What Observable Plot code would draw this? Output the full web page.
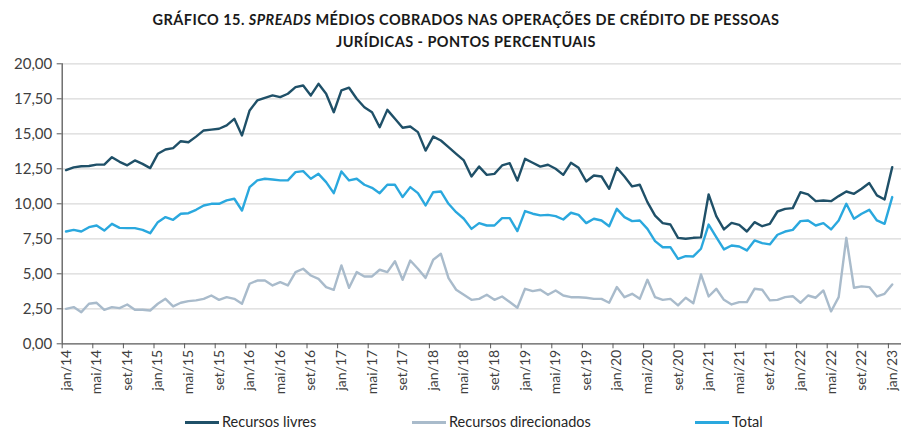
<!DOCTYPE html>
<html><head><meta charset="utf-8">
<script src="https://cdn.jsdelivr.net/npm/d3@7"></script>
<script src="https://cdn.jsdelivr.net/npm/@observablehq/plot@0.6"></script>
<style>
body{margin:0;background:#fff;font-family:Lato,"Open Sans",sans-serif;}
#wrap{width:901px;height:431px;position:relative;overflow:hidden;background:#fff;}
#title{height:50px;box-sizing:border-box;padding-top:9px;padding-left:31px;text-align:center;font-weight:bold;font-size:14.5px;letter-spacing:0.45px;line-height:22px;color:#1a1a1a;}
#chart{height:350px;}
#legend{position:absolute;top:412px;left:0;width:901px;height:20px;font-size:14.5px;color:#262626;}
.item{position:absolute;top:0;height:20px;line-height:20px;white-space:nowrap;}
.sw{display:inline-block;width:34px;height:3px;vertical-align:middle;margin-right:3px;position:relative;top:-1px;}
</style></head>
<body>
<div id="wrap">
<div id="title">GRÁFICO 15. <i>SPREADS</i> MÉDIOS COBRADOS NAS OPERAÇÕES DE CRÉDITO DE PESSOAS<br>JURÍDICAS - PONTOS PERCENTUAIS</div>
<div id="chart"></div>
<div id="legend"></div>
</div>
<script>
const monthNames = ["jan","fev","mar","abr","mai","jun","jul","ago","set","out","nov","dez"];
const years = ["14","15","16","17","18","19","20","21","22","23"];
const seriesNames = ["Recursos livres","Recursos direcionados","Total"];
const seriesColors = ["#1F5068","#A9BBCB","#2AA8DE"];
const yTicks = [0,2.5,5,7.5,10,12.5,15,17.5,20];

const livres = [12.40,12.60,12.68,12.70,12.80,12.80,13.33,13.00,12.75,13.10,12.85,12.55,
13.57,13.88,13.98,14.47,14.40,14.80,15.24,15.30,15.36,15.60,16.07,14.88,
16.67,17.38,17.57,17.74,17.62,17.86,18.33,18.45,17.74,18.57,17.86,16.54,
18.10,18.29,17.50,16.90,16.54,15.47,16.71,16.07,15.43,15.52,15.12,13.80,
14.80,14.52,14.05,13.57,13.10,11.95,12.66,12.07,12.14,12.74,12.90,11.66,
13.21,12.93,12.66,12.79,12.50,12.07,12.93,12.57,11.59,12.02,11.95,11.07,
12.57,11.95,11.24,11.36,10.12,9.16,8.62,8.52,7.57,7.50,7.57,7.60,
10.67,9.12,8.17,8.64,8.50,8.02,8.69,8.40,8.57,9.45,9.64,9.69,
10.83,10.67,10.19,10.24,10.19,10.55,10.88,10.71,11.07,11.48,10.60,10.31,
12.62];
const direcionados = [2.50,2.62,2.26,2.86,2.93,2.43,2.62,2.55,2.81,2.43,2.43,2.38,
2.86,3.21,2.67,2.93,3.05,3.10,3.21,3.45,3.14,3.33,3.21,2.86,
4.29,4.52,4.52,4.17,4.40,4.17,5.12,5.36,4.88,4.64,4.05,3.86,
5.60,4.00,5.12,4.81,4.81,5.29,5.12,5.90,4.57,5.95,5.36,4.71,
6.00,6.43,4.69,3.86,3.50,3.14,3.21,3.50,3.14,3.38,2.98,2.57,
3.93,3.76,3.86,3.50,3.81,3.45,3.33,3.33,3.29,3.21,3.21,2.93,
4.05,3.33,3.57,3.21,4.57,3.33,3.14,3.21,2.74,3.29,2.90,4.95,
3.38,3.93,3.14,2.81,2.98,2.98,3.93,3.86,3.10,3.14,3.33,3.40,
2.93,3.45,3.29,3.81,2.31,3.33,7.57,4.00,4.10,4.05,3.38,3.57,
4.24];
const total = [8.02,8.14,8.02,8.33,8.45,8.09,8.57,8.28,8.26,8.26,8.14,7.90,
8.69,9.05,8.86,9.29,9.33,9.57,9.88,10.00,10.00,10.24,10.36,9.52,
11.19,11.67,11.79,11.74,11.67,11.67,12.26,12.33,11.79,12.14,11.55,10.76,
12.31,11.67,11.79,11.36,11.14,10.76,11.36,11.36,10.48,11.19,10.76,9.88,
10.83,10.88,10.00,9.40,8.93,8.21,8.62,8.45,8.45,8.98,8.98,8.05,
9.48,9.29,9.17,9.21,9.12,8.88,9.36,9.21,8.62,8.93,8.81,8.40,
9.64,9.05,8.76,8.81,8.21,7.33,6.90,6.90,6.07,6.26,6.24,6.79,
8.52,7.62,6.74,7.02,6.95,6.67,7.38,7.19,7.10,7.79,8.02,8.14,
8.76,8.81,8.45,8.62,8.17,8.81,10.00,8.93,9.29,9.57,8.81,8.57,
10.48];

// category labels jan/14 ... jan/23
const categories = [];
years.forEach((y, k) => monthNames.forEach((m) => {
  if (k < years.length - 1 || m === "jan") categories.push(m + "/" + y);
}));
const labelIdx = categories.map((c, i) => i).filter(i => i % 4 === 0);
const boundaries = labelIdx.map(i => i - 0.5);

const seriesValues = [livres, direcionados, total];
const data = [];
seriesNames.forEach((s, k) => seriesValues[k].forEach((v, i) => data.push({i, v, s, c: categories[i]})));

const fmt = d => d.toFixed(2).replace(".", ",");
const n = categories.length;
const catW = 7.65;
const x0 = 61.7;

const chart = Plot.plot({
  width: 901,
  height: 350,
  marginTop: 13.3,
  marginBottom: 56.7,
  marginLeft: x0,
  marginRight: 0,
  style: {fontFamily: "Lato, 'Open Sans', sans-serif", background: "transparent", overflow: "visible"},
  x: {type: "linear", domain: [-0.5, n - 0.5], range: [x0, x0 + n * catW]},
  y: {domain: [0, 20], range: [293.3, 13.3]},
  color: {domain: seriesNames, range: seriesColors},
  marks: [
    Plot.gridY(yTicks.filter(t => t > 0), {stroke: "#d9d9d9", strokeOpacity: 1, strokeWidth: 1.3}),
    Plot.lineY(data, {x: "i", y: "v", z: "s", stroke: "s", strokeWidth: 2.4, strokeLinejoin: "round"}),
    Plot.ruleX([-0.5], {stroke: "#595959", strokeWidth: 1.3}),
    Plot.ruleY([0], {stroke: "#595959", strokeWidth: 1.3}),
    Plot.axisY({ticks: yTicks, tickFormat: fmt, tickSize: 5, tickPadding: 5, fontSize: 15, color: "#404040", stroke: "#595959", label: null}),
    Plot.axisX({ticks: boundaries, tickSize: 5, tickFormat: () => "", stroke: "#595959", label: null}),
    Plot.axisX({ticks: labelIdx, tickSize: 0, tickPadding: 6, tickRotate: -90, tickFormat: i => categories[i], fontSize: 14, color: "#404040", label: null})
  ]
});
document.getElementById("chart").appendChild(chart);

const legendPos = [185, 412, 695];
const lg = document.getElementById("legend");
seriesNames.forEach((s, k) => {
  const d = document.createElement("div");
  d.className = "item";
  d.style.left = legendPos[k] + "px";
  d.innerHTML = `<span class="sw" style="background:${seriesColors[k]}"></span>${s}`;
  lg.appendChild(d);
});
</script>
</body></html>
